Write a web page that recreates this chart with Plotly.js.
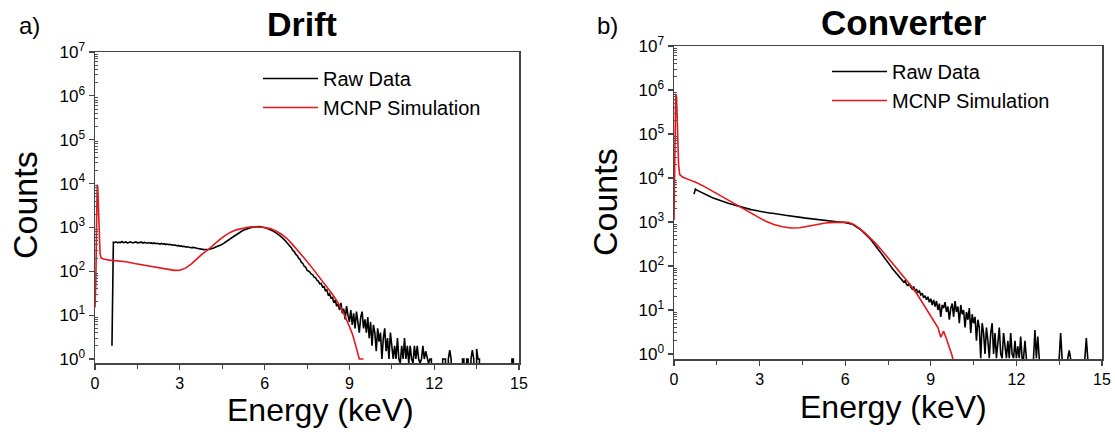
<!DOCTYPE html>
<html>
<head>
<meta charset="utf-8">
<script src="https://cdn.plot.ly/plotly-3.0.1.min.js"></script>
<style>html,body{margin:0;padding:0;background:#fff;}#chart{width:1115px;height:434px;}</style>
</head>
<body>
<div id="chart"></div>
<script>
// ---------- DATA ----------
const panelTitles = ["Drift", "Converter"];
const panelLetters = ["a)", "b)"];
const seriesNames = ["Raw Data", "MCNP Simulation"];
const xTickVals = [0, 3, 6, 9, 12, 15];
const xTickText = ["0", "3", "6", "9", "12", "15"];
const yTickVals = [1, 10, 100, 1000, 10000, 100000, 1000000, 10000000];
const yTickText = ["10<sup>0</sup>","10<sup>1</sup>","10<sup>2</sup>","10<sup>3</sup>","10<sup>4</sup>","10<sup>5</sup>","10<sup>6</sup>","10<sup>7</sup>"];

// Raw data: channel energies start at given keV, 0.05 keV per channel (0 = empty channel)
const channelWidth = 0.05;
const driftRawStart = 0.60;
const driftRawCounts = [
  2, 460, 455, 470, 445, 462, 450, 475, 448, 458, 466, 440, 455, 470, 452, 446, 460, 468, 444, 455,
  450, 462, 441, 455, 447, 438, 452, 436, 445, 430, 442, 425, 436, 428, 418, 432, 414, 425, 408, 418,
  405, 412, 398, 402, 390, 396, 380, 388, 372, 378, 366, 372, 358, 362, 352, 356, 345, 350, 340, 344,
  336, 330, 326, 320, 318, 312, 315, 310, 314, 318, 322, 330, 340, 352, 360, 372, 385, 398, 412, 430,
  450, 478, 505, 530, 560, 590, 625, 660, 690, 725, 760, 795, 830, 860, 890, 920, 945, 970, 990, 1005,
  1020, 1035, 1045, 1050, 1048, 1040, 1030, 1015, 995, 975, 950, 925, 895, 865, 830, 795, 760, 720, 680, 640,
  600, 565, 515, 485, 440, 410, 365, 340, 300, 282, 246, 230, 200, 188, 160, 153, 130, 125, 106, 102,
  96, 86, 84, 74, 72, 63, 60, 52, 53, 44, 45, 36, 38, 29, 31, 24, 26, 19, 22, 16,
  18, 13, 19, 11, 14, 8, 16, 10, 7, 13, 6, 11, 5, 12, 7, 4, 9, 12, 5, 8,
  4, 9, 3, 7, 2, 6, 4, 1.5, 5, 2.5, 4, 1, 3, 5, 1.5, 3, 1, 4, 2, 1,
  2, 1, 3, 1, 0.8, 2, 1, 3, 1, 2, 0.8, 2, 1, 0.8, 2, 1, 2, 1, 0.8, 1,
  2, 1, 1.5, 1, 0.8, 1, 1, 0, 0, 0, 0, 0, 0, 0, 1, 1, 1, 0, 1, 1.6,
  1, 0, 0, 0, 0, 0, 0, 0, 1, 1, 0, 1, 1, 0, 1, 1.6, 1, 0, 1.7, 1,
  1, 0, 0, 0, 0, 0, 0, 0, 0, 0, 0, 0, 0, 0, 0, 0, 0, 0, 0, 0,
  0, 0, 0, 1, 1, 0
];

const driftSimEnergy = [0, 0.03, 0.06, 0.08, 0.10, 0.12, 0.15, 0.18, 0.22, 0.3, 0.5, 0.8, 1.1, 1.4, 1.7, 2.0, 2.3, 2.6, 2.8, 3.0, 3.2, 3.4, 3.6, 3.8, 4.0, 4.2, 4.4, 4.6, 4.8, 5.0, 5.2, 5.4, 5.6, 5.8, 6.0, 6.2, 6.4, 6.6, 6.8, 7.0, 7.2, 7.4, 7.6, 7.8, 8.0, 8.2, 8.4, 8.6, 8.8, 9.0, 9.1, 9.2, 9.3, 9.35, 9.5];
const driftSimCounts = [15, 60, 2000, 9500, 8000, 3000, 700, 250, 200, 190, 180, 175, 165, 150, 140, 128, 118, 110, 105, 106, 118, 145, 190, 250, 310, 410, 520, 650, 780, 880, 960, 1010, 1040, 1040, 1000, 940, 830, 700, 550, 400, 290, 200, 140, 95, 65, 44, 30, 19, 11, 5.5, 3.8, 2.3, 1.3, 1.0, 1.0];

const convRawStart = 0.70;
const convRawCounts = [
  4300, 5600, 5300, 5100, 4900, 4700, 4500, 4350, 4200, 4050, 3900, 3780, 3650, 3550, 3450, 3350, 3250, 3170, 3080, 3000,
  2950, 2880, 2800, 2740, 2680, 2620, 2560, 2500, 2440, 2380, 2330, 2270, 2220, 2180, 2130, 2090, 2050, 2010, 1980, 1950,
  1910, 1890, 1850, 1830, 1800, 1780, 1750, 1730, 1700, 1690, 1660, 1650, 1620, 1610, 1580, 1575, 1550, 1540, 1520, 1505,
  1490, 1470, 1460, 1440, 1420, 1410, 1395, 1380, 1360, 1350, 1335, 1320, 1305, 1300, 1280, 1265, 1255, 1240, 1230, 1215,
  1205, 1190, 1180, 1165, 1150, 1140, 1130, 1115, 1100, 1090, 1075, 1070, 1055, 1050, 1040, 1030, 1025, 1015, 1010, 1005,
  1000, 995, 1005, 990, 1000, 985, 990, 975, 960, 940, 915, 885, 850, 815, 775, 735, 700, 660, 620, 580,
  545, 505, 470, 430, 395, 360, 330, 300, 270, 245, 220, 200, 180, 162, 148, 132, 120, 108, 98, 88,
  80, 74, 66, 62, 55, 52, 48, 43, 46, 38, 36, 40, 33, 30, 34, 27, 29, 25, 27, 22,
  24, 19, 21, 17, 20, 15, 18, 13, 17, 12, 16, 10, 14, 7, 13, 11, 15, 9, 12, 6,
  11, 14, 7, 16, 9, 12, 5, 13, 8, 10, 4, 9, 6, 11, 3, 8, 5, 7, 2, 6,
  4, 0.8, 5, 3, 1, 4, 2, 0.8, 3, 5, 1, 3, 0.8, 2, 4, 1, 0.8, 3, 1.5, 0.8,
  2, 0.8, 3, 1, 0.8, 2, 0.8, 1.5, 0.8, 2.5, 0.8, 0.8, 2, 0.8, 0, 0, 0, 0, 0.8, 3.5,
  0.8, 2.5, 0.8, 0, 0, 0, 0, 0, 0, 0, 0, 0, 0, 0, 0, 0, 0.8, 3, 0.8, 0,
  0, 0, 0.8, 1.2, 0.8, 0, 0, 0, 0, 0, 0, 0, 0, 0, 0.8, 2.3, 0.8, 0, 0, 0
];

const convSimEnergy = [0, 0.03, 0.06, 0.09, 0.12, 0.16, 0.2, 0.3, 0.5, 0.8, 1.1, 1.4, 1.7, 2.0, 2.3, 2.6, 2.9, 3.2, 3.5, 3.8, 4.1, 4.4, 4.7, 5.0, 5.3, 5.6, 5.9, 6.1, 6.3, 6.5, 6.7, 6.9, 7.1, 7.3, 7.5, 7.7, 7.9, 8.1, 8.3, 8.5, 8.7, 8.9, 9.1, 9.25, 9.35, 9.45, 9.55, 9.65, 9.75, 9.8];
const convSimCounts = [1100, 50000, 800000, 700000, 100000, 20000, 12000, 10500, 9300, 7800, 6200, 4800, 3700, 2900, 2250, 1750, 1350, 1050, 880, 780, 730, 740, 800, 880, 950, 980, 1000, 990, 880, 720, 560, 420, 310, 220, 155, 108, 75, 52, 36, 24, 15, 9.5, 6, 4, 2.4, 3.3, 2.2, 1.4, 0.9, 0.6];

// ---------- BUILD ----------
const grid = (start, arr) => arr.map((_, i) => +(start + i * channelWidth).toFixed(3));
const blk = '#000000', red = '#e8161b';
const FONT = 'Liberation Sans, Arial, Helvetica, sans-serif';

// minor tick positions on the log axis (2..9 within each decade)
const yMinorVals = [];
yTickVals.slice(0, -1).forEach(d => { for (let k = 2; k <= 9; k++) yMinorVals.push(d * k); });

const traces = [
  {x: grid(driftRawStart, driftRawCounts), y: driftRawCounts, name: seriesNames[0], mode: 'lines', line: {color: blk, width: 1.6}, xaxis: 'x', yaxis: 'y', legend: 'legend'},
  {x: driftSimEnergy, y: driftSimCounts, name: seriesNames[1], mode: 'lines', line: {color: red, width: 1.6}, xaxis: 'x', yaxis: 'y', legend: 'legend'},
  {x: grid(convRawStart, convRawCounts), y: convRawCounts, name: seriesNames[0], mode: 'lines', line: {color: blk, width: 1.6}, xaxis: 'x2', yaxis: 'y2', legend: 'legend2'},
  {x: convSimEnergy, y: convSimCounts, name: seriesNames[1], mode: 'lines', line: {color: red, width: 1.6}, xaxis: 'x2', yaxis: 'y2', legend: 'legend2'}
];

function xAxis(domain, anchor) {
  return {domain: domain, anchor: anchor, range: [0, 15], tickmode: 'array', tickvals: xTickVals, ticktext: xTickText,
    ticks: 'outside', ticklen: 5, tickwidth: 1.2, tickcolor: '#444',
    minor: {tickmode: 'array', tickvals: [1.5, 4.5, 7.5, 10.5, 13.5], ticks: 'outside', ticklen: 4, tickwidth: 1, tickcolor: '#444', showgrid: false},
    showline: true, mirror: true, linecolor: '#444', linewidth: 1.5, showgrid: false, zeroline: false,
    tickfont: {family: FONT, size: 16, color: '#000'}, fixedrange: true};
}
function yAxis(domain, anchor, lo) {
  return {domain: domain, anchor: anchor, type: 'log', range: [lo, 7], tickmode: 'array', tickvals: yTickVals, ticktext: yTickText,
    ticks: 'outside', ticklen: 5, tickwidth: 1.2, tickcolor: '#444',
    minor: {tickmode: 'array', tickvals: yMinorVals, ticks: 'inside', ticklen: 3, tickwidth: 1, tickcolor: '#555', showgrid: false},
    showline: true, mirror: true, linecolor: '#444', linewidth: 1.5, showgrid: false, zeroline: false,
    tickfont: {family: FONT, size: 17, color: '#000'}, fixedrange: true};
}
const W = 1115, H = 434;
const px = v => v / W, py = v => 1 - v / H;
function ann(text, x, y, size, bold, angle) {
  return {text: bold ? '<b>' + text + '</b>' : text, x: px(x), y: py(y), xref: 'paper', yref: 'paper',
    xanchor: 'center', yanchor: 'middle', showarrow: false, textangle: angle || 0,
    font: {family: FONT, size: size, color: '#000'}};
}

const layout = {
  width: W, height: H, margin: {l: 0, r: 0, t: 0, b: 0},
  paper_bgcolor: '#fff', plot_bgcolor: '#fff',
  xaxis: xAxis([px(95), px(519)], 'y'),
  yaxis: yAxis([1 - 363 / H, 1 - 52 / H], 'x', -0.091),
  xaxis2: xAxis([px(674), px(1102)], 'y2'),
  yaxis2: yAxis([1 - 359 / H, 1 - 46 / H], 'x2', -0.114),
  legend: {x: px(258), y: py(59), xanchor: 'left', yanchor: 'top', bgcolor: 'rgba(0,0,0,0)', borderwidth: 0,
    itemwidth: 55, font: {family: FONT, size: 20, color: '#000'}, tracegroupgap: 0},
  legend2: {x: px(827), y: py(52), xanchor: 'left', yanchor: 'top', bgcolor: 'rgba(0,0,0,0)', borderwidth: 0,
    itemwidth: 55, font: {family: FONT, size: 20, color: '#000'}, tracegroupgap: 0},
  annotations: [
    ann(panelLetters[0], 29, 26, 24, false),
    ann(panelTitles[0], 302, 24, 34, true),
    ann(panelLetters[1], 607, 25, 24, false),
    ann(panelTitles[1], 904, 22, 35, true),
    ann('Counts', 25, 205, 34, false, -90),
    ann('Counts', 605, 202, 34, false, -90),
    ann('Energy (keV)', 320, 410, 32, false),
    ann('Energy (keV)', 893, 407, 32, false)
  ]
};

Plotly.newPlot('chart', traces, layout, {displayModeBar: false, staticPlot: true});
</script>
</body>
</html>
